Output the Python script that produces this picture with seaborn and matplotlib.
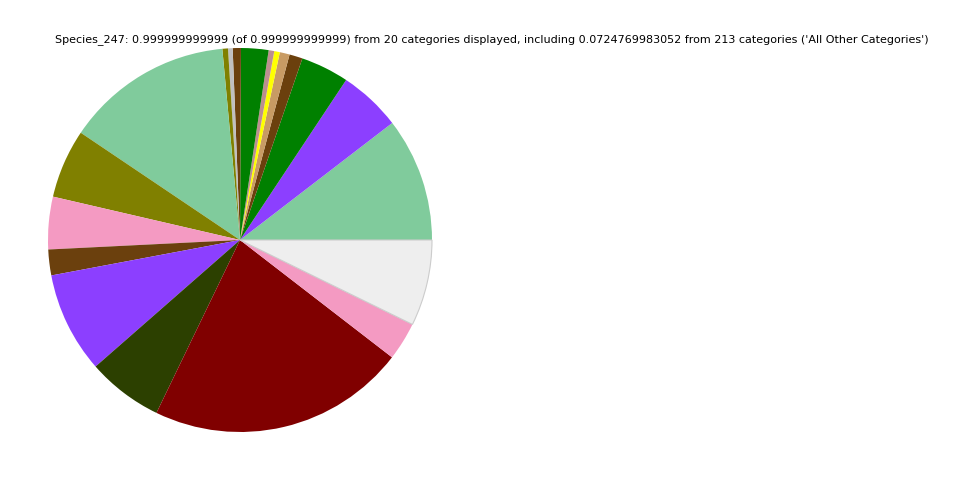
import matplotlib
matplotlib.use("Agg")
import matplotlib.pyplot as plt
import seaborn as sns

# --- datos (fracciones, orden antihorario desde 0 grados) ---
categorias = [f"Categoria_{i}" for i in range(1, 20)] + ["All Other Categories"]
valores = [0.1044, 0.0525, 0.0406, 0.0111, 0.0083, 0.0047, 0.0047, 0.0231,
           0.0069, 0.0039, 0.0047, 0.1411, 0.0581, 0.0442, 0.0217, 0.0850,
           0.0639, 0.2172, 0.0322, 0.0725]
colores = ["#80cb9c", "#8c3fff", "#008000", "#6b400d", "#c89b64", "#ffff00",
           "#bc8f8f", "#008000", "#6b400d", "#c0c0c0", "#808000", "#80cb9c",
           "#808000", "#f49ac2", "#6b400d", "#8c3fff", "#2c4000", "#800000",
           "#f49ac2", "#eeeeee"]

titulo = ("Species_247: 0.999999999999 (of 0.999999999999) from 20 categories displayed, "
          "including 0.0724769983052 from 213 categories ('All Other Categories')")

sns.set_style("white")
plt.rcParams['font.family'] = ['DejaVu Sans']

fig = plt.figure(figsize=(9.6, 4.8), dpi=100)
ax = fig.add_axes([48 / 960, 48 / 480, 384 / 960, 384 / 480])

wedges, _ = ax.pie(valores, colors=colores, startangle=0, counterclock=True,
                   radius=1.0, wedgeprops={"linewidth": 0})
# borde fino para la porcion gris clara
wedges[-1].set_edgecolor("#cccccc")
wedges[-1].set_linewidth(0.8)

ax.set_xlim(-1, 1)
ax.set_ylim(-1, 1)
ax.set_aspect("equal")
ax.axis("off")

fig.text(492 / 960, 1 - 40 / 480, titulo, ha="center", va="center",
         fontsize=8, color="black")

fig.savefig("out.png", dpi=100)
